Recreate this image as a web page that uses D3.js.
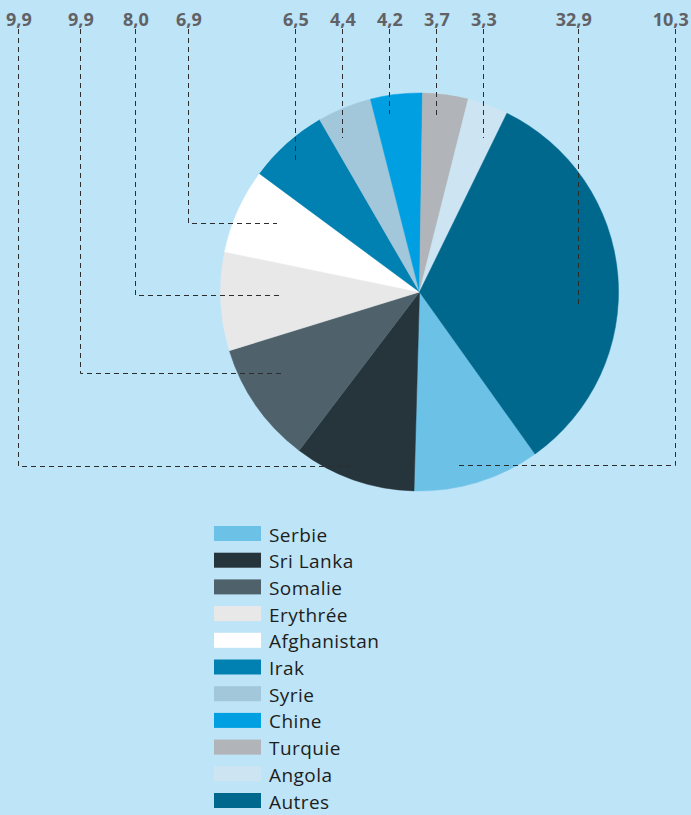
<!DOCTYPE html>
<html>
<head>
<meta charset="utf-8">
<script src="https://cdn.jsdelivr.net/npm/d3@7"></script>
<style>
  html, body { margin: 0; padding: 0; background: #bee4f8; }
  svg { display: block; }
</style>
</head>
<body>
<svg id="chart" width="691" height="815"></svg>
<script>
// Countries (legend order) and their shares, in percent
const countries = ["Serbie", "Sri Lanka", "Somalie", "Erythrée", "Afghanistan", "Irak", "Syrie", "Chine", "Turquie", "Angola", "Autres"];
const shares    = [10.3, 9.9, 9.9, 8.0, 6.9, 6.5, 4.4, 4.2, 3.7, 3.3, 32.9];
const valueLabels = ["10,3", "9,9", "9,9", "8,0", "6,9", "6,5", "4,4", "4,2", "3,7", "3,3", "32,9"];
const colors = ["#6cc1e7", "#26343b", "#4f626c", "#e8e8e8", "#ffffff", "#0081b1", "#a3c7da", "#009fe1", "#b1b4b8", "#cde4f3", "#00688d"];

// Leader line layout: label column x, elbow y, end x (for elbowed leaders) or end y (straight ones)
const leaders = [
  { x: 675, y: 465, endX: 459 },
  { x: 18,  y: 466, endX: 353 },
  { x: 80,  y: 373, endX: 282 },
  { x: 135, y: 295, endX: 280 },
  { x: 188, y: 223, endX: 277 },
  { x: 295, endY: 161 },
  { x: 342, endY: 138 },
  { x: 389, endY: 114 },
  { x: 436, endY: 116 },
  { x: 483, endY: 138 },
  { x: 578, endY: 308 }
];

const svg = d3.select("#chart");
const cx = 419.5, cy = 292, R = 199;

const data = countries.map((c, i) => ({ name: c, value: shares[i], label: valueLabels[i], color: colors[i], leader: leaders[i] }));

const start = 144.5 * Math.PI / 180;
const pie = d3.pie().sort(null).value(d => d.value).startAngle(start).endAngle(start + 2 * Math.PI);
const arc = d3.arc().innerRadius(0).outerRadius(R);

const g = svg.append("g").attr("transform", `translate(${cx},${cy})`);
g.selectAll("path.slice")
  .data(pie(data))
  .join("path")
  .attr("class", "slice")
  .attr("d", arc)
  .attr("fill", d => d.data.color)
  .attr("stroke", d => d.data.color)
  .attr("stroke-width", 0.5);

// Dashed leader lines from each value label down into its slice
const topY = 29;
svg.append("g").selectAll("path.leader")
  .data(data)
  .join("path")
  .attr("class", "leader")
  .attr("fill", "none")
  .attr("stroke", "#2d2d2d")
  .attr("stroke-width", 1)
  .attr("stroke-dasharray", "5,4")
  .attr("d", d => {
    const L = d.leader, x = L.x + 0.5;
    if (L.endX !== undefined) {
      const y = L.y + 0.5;
      return `M${x},${topY}V${y}H${L.endX}`;
    }
    return `M${x},${topY}V${L.endY}`;
  });

// Value labels, aligned on the decimal comma
const lab = svg.append("g")
  .attr("font-family", "'Open Sans', sans-serif")
  .attr("font-weight", 700)
  .attr("font-size", 18)
  .attr("fill", "#606265");
data.forEach(d => {
  const [intPart, dec] = d.label.split(",");
  const x = d.leader.x + 0.5 - 2.2;
  lab.append("text").attr("x", x).attr("y", 26).attr("text-anchor", "end").text(intPart);
  lab.append("text").attr("x", x).attr("y", 26).attr("text-anchor", "start").text("," + dec);
});

// Legend
const legend = svg.append("g").attr("transform", "translate(214,526)");
const rowH = 26.7;
const rows = legend.selectAll("g.row")
  .data(data)
  .join("g")
  .attr("class", "row")
  .attr("transform", (d, i) => `translate(0,${i * rowH})`);
rows.append("rect")
  .attr("width", 47).attr("height", 15)
  .attr("fill", d => d.color);
rows.append("text")
  .attr("x", 55).attr("y", 15.5)
  .attr("font-family", "'Open Sans', sans-serif")
  .attr("font-size", 19)
  .attr("letter-spacing", 0.45)
  .attr("fill", "#1d1d1b")
  .text(d => d.name);
</script>
</body>
</html>
